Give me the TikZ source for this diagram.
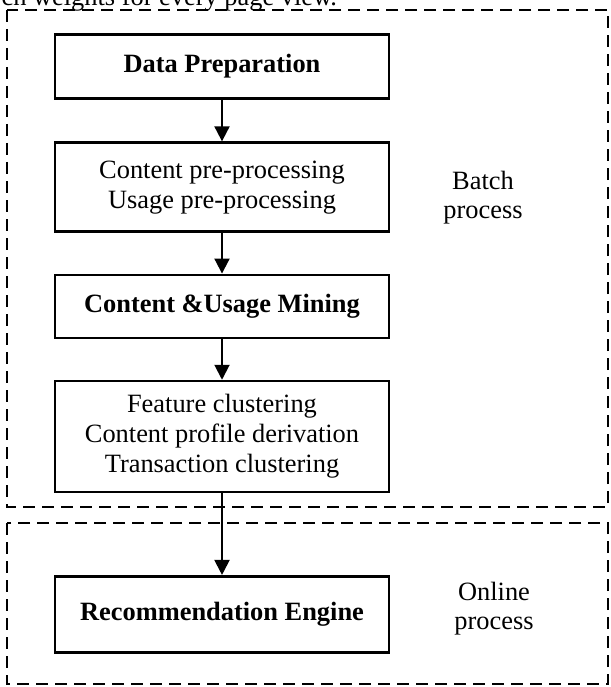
\documentclass[tikz,border=0pt]{standalone}
\usepackage{fontspec}
\setmainfont{Liberation Serif}
\usetikzlibrary{arrows.meta,positioning}
\definecolor{ink}{HTML}{000000}
\tikzset{
  flow/.style={-{Triangle[length=15pt,width=15pt]}, line width=2pt, draw=ink},
  region/.style={draw=ink, dash pattern=on 12pt off 7pt, line width=2pt},
  stage/.style={
    draw=ink,
    line width=2.7pt,
    minimum width=334pt,
    align=center,
    inner sep=0pt,
    font=\fontsize{26.4}{30}\selectfont
  },
  heading/.style={stage, font=\fontsize{26.4}{30}\selectfont\bfseries},
  side/.style={align=center, text=ink, font=\fontsize{26.4}{29}\selectfont}
}

\begin{document}
\begin{tikzpicture}[x=1pt, y=-1pt, node distance=40.5pt]
  \useasboundingbox (0,0) rectangle (610,687);
  \clip (0,0) rectangle (610,687);

  % leftover line of the page above
  \node[side, anchor=base west] (pagetext) at (-2,6) {ch weights for every page view.};

  \node[heading, minimum height=64pt] (prep) at (222,66.5) {Data Preparation};
  \node[stage, minimum height=89pt, below=41.5pt of prep] (preproc)
    {Content pre-processing\\Usage pre-processing};
  \node[heading, minimum height=63pt, below=of preproc] (mining) {Content \&Usage Mining};
  \node[stage, minimum height=111pt, below=of mining] (cluster)
    {Feature clustering\\Content profile derivation\\Transaction clustering};
  \node[heading, minimum height=76pt, below=81.5pt of cluster] (engine) {Recommendation Engine};

  \draw[flow] (prep) -- (preproc);
  \draw[flow] (preproc) -- (mining);
  \draw[flow] (mining) -- (cluster);
  \draw[flow] (cluster) -- (engine);

  % batch and online regions
  \draw[region] (7,10) rectangle (608,507);
  \draw[region] (7,523) rectangle (608,684);
  \node[side] (batch) at (483,198) {Batch\\process};
  \node[side] (online) at (494,609) {Online\\process};
\end{tikzpicture}
\end{document}
